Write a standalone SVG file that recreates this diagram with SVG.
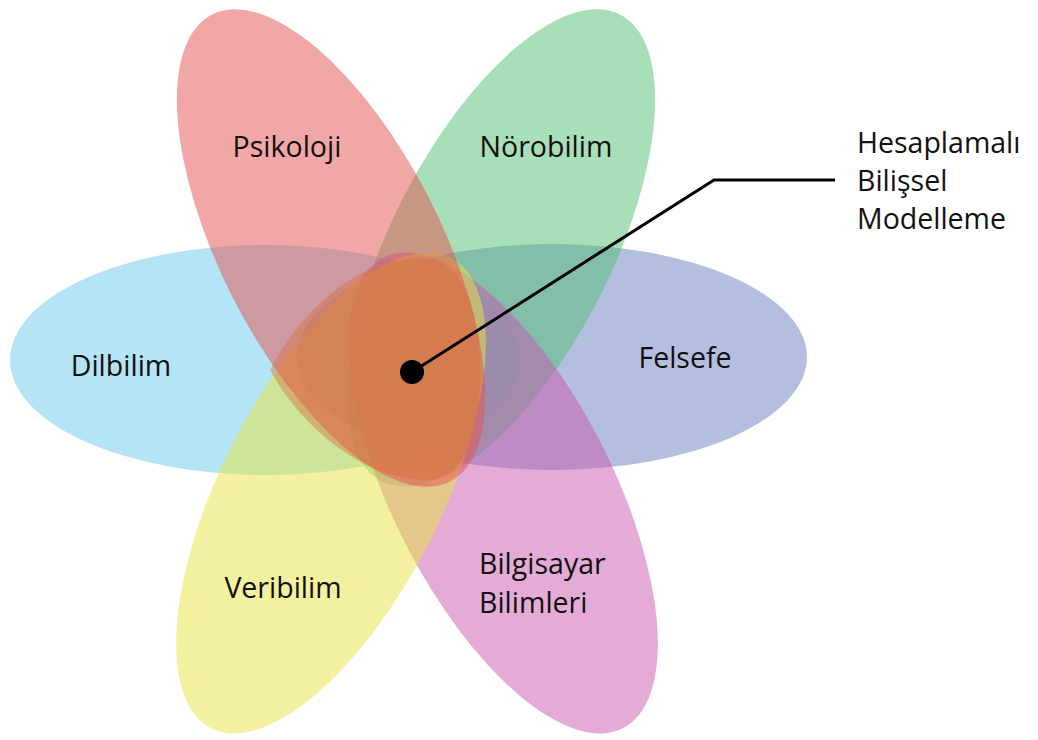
<svg xmlns="http://www.w3.org/2000/svg" width="1038" height="740" viewBox="0 0 1038 740">
  <style>
    .petal { opacity: 0.5; }
    .label { font-family: "Open Sans", "Noto Sans", "Liberation Sans", sans-serif; font-size: 28.5px; fill: #111; }
    .mid { text-anchor: middle; }
    .leader { fill: none; stroke: #000; stroke-width: 3; stroke-linejoin: miter; }
  </style>
  <rect width="1038" height="740" fill="#fff"/>

  <!-- horizontal petals -->
  <g id="felsefe">
    <ellipse class="petal" cx="552" cy="357" rx="255" ry="113" fill="#697DBF"/>
  </g>
  <g id="dilbilim">
    <ellipse class="petal" cx="265" cy="360" rx="255" ry="115" fill="#69C9EB"/>
  </g>

  <!-- tilted petals -->
  <g id="norobilim">
    <ellipse class="petal" cx="501" cy="248" rx="262" ry="110" fill="#51BD71" transform="rotate(-63 501 248)"/>
  </g>
  <g id="bilgisayar-bilimleri">
    <ellipse class="petal" cx="503" cy="493" rx="264" ry="110" fill="#C757AD" transform="rotate(63 503 493)"/>
  </g>
  <g id="veribilim">
    <ellipse class="petal" cx="331" cy="493" rx="264" ry="110" fill="#E7E341" transform="rotate(-63 331 493)"/>
  </g>
  <g id="psikoloji">
    <ellipse class="petal" cx="331" cy="248" rx="262" ry="110" fill="#E54F4F" transform="rotate(63 331 248)"/>
  </g>

  <!-- core region -->
  <g id="hesaplamali-bilissel-modelleme">
    <path d="M270,370 C298,316 352,259 422,258 C466,258 480,318 480,370 C480,430 466,480 428,480 C360,480 298,422 270,370 Z" fill="#D8703A" opacity="0.45"/>
    <text class="label" x="857" y="153">Hesaplamalı</text>
    <text class="label" x="857" y="191">Bilişsel</text>
    <text class="label" x="857" y="229">Modelleme</text>
  </g>

  <!-- labels of the petals -->
  <g id="labels">
    <text class="label mid" x="287" y="157">Psikoloji</text>
    <text class="label mid" x="546" y="157">Nörobilim</text>
    <text class="label mid" x="121" y="376">Dilbilim</text>
    <text class="label mid" x="685" y="368">Felsefe</text>
    <text class="label mid" x="283" y="598">Veribilim</text>
    <text class="label" x="479" y="574">Bilgisayar</text>
    <text class="label" x="479" y="613">Bilimleri</text>
  </g>

  <!-- leader from the core to its caption -->
  <g id="connectors">
    <polyline class="leader" points="412,372 714,180 835,180"/>
    <circle cx="412" cy="372" r="12" fill="#000"/>
  </g>
</svg>
